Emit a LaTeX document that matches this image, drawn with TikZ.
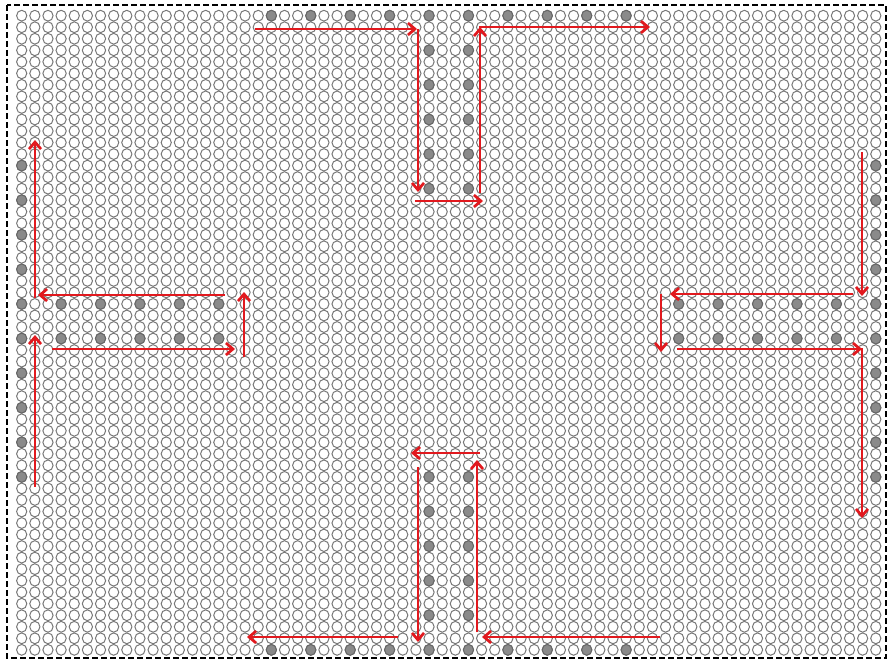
\documentclass[tikz,border=0pt]{standalone}
\usetikzlibrary{arrows.meta}
\definecolor{ringgray}{RGB}{120,120,120}
\definecolor{dotgray}{RGB}{138,138,138}
\definecolor{arrowred}{RGB}{225,25,30}
\begin{document}
\begin{tikzpicture}[x=1pt,y=-1pt,
  ring/.style={draw=ringgray,line width=1pt,fill=white},
  dot/.style={draw=ringgray!85!black,line width=1pt,fill=dotgray},
  flow/.style={draw=arrowred,line width=2.7pt,-{Straight Barb[length=7pt,width=12pt]}}]
\useasboundingbox (0,0) rectangle (889,661);
\draw[dash pattern=on 6pt off 3pt,line width=1.1pt] (7,5) rectangle (886,658);
% grid of rings
\foreach \c in {0,...,65}{\foreach \r in {0,...,55}{
  \path[ring] (21.7+13.14*\c,15.7+11.53*\r) ellipse [x radius=5.1pt,y radius=5.4pt];}}
% filled rings
\foreach \c in {19,22,...,46}{\foreach \r in {0,55}{
  \path[dot] (21.7+13.14*\c,15.7+11.53*\r) ellipse [x radius=5.1pt,y radius=5.4pt];}}
\foreach \c in {31,34}{\foreach \r in {3,6,9,12,15,40,43,46,49,52}{
  \path[dot] (21.7+13.14*\c,15.7+11.53*\r) ellipse [x radius=5.1pt,y radius=5.4pt];}}
\foreach \c in {0,65}{\foreach \r in {13,16,...,40}{
  \path[dot] (21.7+13.14*\c,15.7+11.53*\r) ellipse [x radius=5.1pt,y radius=5.4pt];}}
\foreach \r in {25,28}{\foreach \c in {3,6,9,12,15,50,53,56,59,62}{
  \path[dot] (21.7+13.14*\c,15.7+11.53*\r) ellipse [x radius=5.1pt,y radius=5.4pt];}}
% arrow end points
\coordinate (t1a) at (255,29);  \coordinate (t1b) at (417,29);
\coordinate (t2a) at (418,29);  \coordinate (t2b) at (418,192);
\coordinate (t3a) at (415,201); \coordinate (t3b) at (483,201);
\coordinate (t4a) at (480,193); \coordinate (t4b) at (480,27);
\coordinate (t5a) at (479,27);  \coordinate (t5b) at (650,27);
\coordinate (l1a) at (225,295); \coordinate (l1b) at (38,295);
\coordinate (l2a) at (35,298);  \coordinate (l2b) at (35,140);
\coordinate (l3a) at (35,487);  \coordinate (l3b) at (35,335);
\coordinate (l4a) at (52,349);  \coordinate (l4b) at (235,349);
\coordinate (l5a) at (244,357); \coordinate (l5b) at (244,292);
\coordinate (r1a) at (862,152); \coordinate (r1b) at (862,296);
\coordinate (r2a) at (853,294); \coordinate (r2b) at (670,294);
\coordinate (r3a) at (661,294); \coordinate (r3b) at (661,352);
\coordinate (r4a) at (677,349); \coordinate (r4b) at (862,349);
\coordinate (r5a) at (862,348); \coordinate (r5b) at (862,518);
\coordinate (b1a) at (480,453); \coordinate (b1b) at (411,453);
\coordinate (b2a) at (418,467); \coordinate (b2b) at (418,642);
\coordinate (b3a) at (477,632); \coordinate (b3b) at (477,460);
\coordinate (b4a) at (660,637); \coordinate (b4b) at (482,637);
\coordinate (b5a) at (398,637); \coordinate (b5b) at (247,637);
\foreach \a in {t1,t2,t3,t4,t5,l1,l2,l3,l4,l5,r1,r2,r3,r4,r5,b1,b2,b3,b4,b5}{
  \draw[flow] (\a a) -- (\a b);}
\end{tikzpicture}
\end{document}
